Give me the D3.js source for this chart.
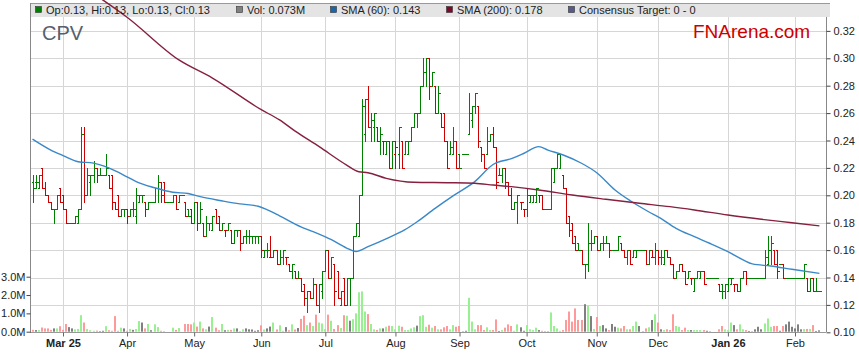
<!DOCTYPE html>
<html>
<head>
<meta charset="utf-8">
<script src="https://cdn.jsdelivr.net/npm/d3@7"></script>
<style>
  body { margin: 0; background: #fff; }
  svg { display: block; }
  text { font-family: "Liberation Sans", Arial, sans-serif; }
</style>
</head>
<body>
<div id="chart"></div>
<script>
// one entry per weekday, 17 Feb 2025 .. 12 Feb 2026
const opens = [
  .21,.21,.205,.22,.205,.20,.195,.19,.19,.205,
  .20,.19,.18,.18,.18,.18,.19,.245,.20,.21,
  .215,.22,.215,.215,.215,.215,.215,.195,.20,.185,
  .19,.19,.185,.19,.185,.195,.20,.195,.19,.195,
  .195,.205,.21,.21,.195,.195,.195,.20,.195,.20,
  .195,.19,.19,.18,.195,.18,.18,.17,.18,.175,
  .19,.185,.175,.175,.175,.175,.165,.175,.175,.165,
  .17,.17,.17,.17,.17,.17,.155,.16,.155,.155,
  .16,.15,.155,.155,.15,.145,.145,.14,.14,.135,
  .125,.13,.125,.135,.12,.13,.145,.16,.14,.15,
  .145,.12,.14,.12,.14,.14,.17,.17,.20,.245,
  .27,.25,.25,.25,.24,.24,.23,.24,.22,.23,
  .23,.24,.23,.23,.24,.25,.26,.26,.28,.29,
  .30,.28,.28,.26,.26,.26,.24,.23,.23,.24,
  .23,.23,.23,.245,.255,.265,.265,.235,.23,.23,
  .24,.245,.235,.215,.215,.22,.21,.20,.19,.195,
  .195,.19,.19,.195,.195,.195,.20,.20,.19,.19,
  .19,.21,.22,.22,.215,.205,.185,.18,.17,.165,
  .16,.15,.15,.165,.165,.17,.16,.165,.165,.165,
  .16,.16,.16,.165,.16,.155,.16,.155,.155,.16,
  .16,.16,.15,.155,.155,.16,.155,.15,.16,.155,
  .15,.14,.145,.15,.145,.14,.14,.13,.14,.14,
  .145,.14,.14,.14,.14,.135,.135,.13,.13,.135,
  .135,.135,.13,.14,.145,.14,.14,.14,.14,.14,
  .14,.15,.16,.16,.16,.15,.15,.14,.14,.14,
  .14,.14,.14,.14,.14,.13,.14,.13,.13
];
const highs = [
  .215,.215,.215,.22,.21,.20,.195,.19,.20,.205,
  .20,.19,.18,.18,.185,.19,.25,.25,.22,.215,
  .225,.22,.22,.215,.23,.215,.215,.195,.20,.19,
  .19,.19,.19,.195,.205,.20,.20,.195,.195,.195,
  .205,.215,.21,.21,.195,.195,.20,.20,.20,.20,
  .195,.19,.19,.195,.195,.195,.18,.185,.18,.185,
  .19,.185,.18,.175,.18,.175,.175,.175,.175,.17,
  .175,.175,.17,.17,.17,.17,.16,.165,.17,.16,
  .16,.16,.16,.155,.15,.15,.145,.145,.14,.135,
  .13,.13,.14,.135,.135,.145,.16,.16,.155,.15,
  .145,.13,.14,.14,.14,.17,.18,.20,.27,.27,
  .28,.26,.26,.25,.25,.24,.24,.24,.24,.24,
  .25,.24,.24,.24,.25,.26,.26,.28,.30,.30,
  .30,.29,.28,.28,.26,.26,.24,.24,.25,.24,
  .23,.23,.23,.275,.265,.275,.265,.235,.23,.25,
  .245,.25,.235,.22,.22,.22,.21,.205,.195,.20,
  .195,.19,.205,.20,.20,.205,.20,.20,.19,.19,
  .22,.22,.23,.23,.215,.205,.185,.18,.17,.165,
  .16,.15,.18,.175,.17,.17,.165,.17,.17,.165,
  .16,.16,.17,.165,.16,.16,.16,.16,.16,.16,
  .16,.16,.16,.16,.165,.16,.16,.16,.16,.155,
  .15,.145,.15,.15,.145,.145,.14,.14,.145,.145,
  .145,.14,.14,.14,.14,.135,.135,.135,.14,.14,
  .135,.135,.14,.145,.145,.14,.14,.14,.14,.14,
  .16,.17,.17,.16,.16,.15,.15,.14,.14,.14,
  .14,.14,.14,.15,.14,.14,.14,.14,.13
];
const lows = [
  .195,.205,.205,.205,.20,.195,.19,.18,.19,.195,
  .19,.18,.18,.18,.18,.18,.19,.195,.20,.20,
  .21,.21,.215,.215,.215,.205,.19,.19,.185,.185,
  .185,.18,.185,.185,.18,.195,.195,.185,.19,.195,
  .195,.195,.195,.195,.195,.195,.195,.19,.195,.20,
  .185,.185,.18,.18,.175,.18,.17,.17,.175,.175,
  .18,.175,.175,.17,.175,.165,.165,.17,.16,.165,
  .165,.165,.165,.165,.165,.155,.155,.155,.155,.155,
  .15,.15,.15,.15,.145,.14,.14,.14,.13,.12,
  .115,.125,.125,.12,.115,.125,.145,.14,.14,.12,
  .125,.12,.12,.12,.12,.14,.17,.17,.20,.24,
  .25,.24,.24,.24,.23,.23,.23,.22,.22,.22,
  .22,.22,.23,.23,.24,.25,.25,.26,.28,.28,
  .27,.28,.26,.26,.25,.24,.22,.23,.23,.22,
  .22,.23,.23,.245,.25,.26,.235,.225,.22,.23,
  .24,.235,.205,.215,.21,.205,.20,.19,.19,.18,
  .19,.185,.185,.195,.195,.195,.195,.19,.19,.19,
  .19,.21,.22,.22,.205,.18,.17,.165,.16,.16,
  .15,.14,.145,.16,.165,.16,.16,.16,.165,.155,
  .16,.16,.16,.16,.155,.15,.15,.155,.155,.16,
  .16,.15,.15,.155,.15,.15,.15,.15,.155,.15,
  .14,.14,.145,.145,.135,.14,.135,.13,.14,.14,
  .135,.14,.14,.14,.14,.13,.125,.125,.13,.135,
  .13,.13,.13,.14,.135,.14,.14,.14,.14,.14,
  .14,.15,.15,.15,.14,.15,.14,.14,.14,.14,
  .14,.14,.14,.14,.13,.13,.13,.13,.13
];
const closes = [
  .205,.21,.215,.205,.20,.195,.19,.19,.20,.195,
  .19,.18,.18,.18,.185,.19,.245,.20,.215,.215,
  .22,.215,.215,.215,.22,.205,.195,.19,.185,.19,
  .19,.185,.19,.19,.20,.20,.20,.19,.195,.195,
  .205,.21,.20,.195,.195,.195,.20,.19,.20,.20,
  .185,.185,.18,.195,.18,.19,.17,.18,.18,.185,
  .18,.175,.18,.175,.18,.165,.175,.175,.165,.17,
  .17,.17,.17,.17,.17,.16,.16,.16,.155,.16,
  .15,.155,.16,.155,.145,.15,.14,.14,.13,.125,
  .13,.125,.135,.12,.135,.145,.16,.14,.155,.13,
  .125,.13,.12,.14,.14,.17,.18,.20,.265,.27,
  .25,.255,.26,.24,.245,.24,.24,.22,.24,.235,
  .25,.22,.24,.24,.25,.26,.26,.28,.29,.30,
  .28,.29,.26,.275,.25,.24,.22,.235,.24,.22,
  .22,.23,.23,.26,.265,.275,.24,.23,.22,.24,
  .245,.235,.21,.215,.22,.21,.20,.19,.195,.20,
  .195,.19,.20,.20,.20,.205,.20,.19,.19,.19,
  .22,.22,.23,.23,.205,.18,.175,.165,.16,.16,
  .15,.15,.165,.165,.17,.16,.165,.165,.165,.16,
  .16,.16,.17,.16,.155,.16,.15,.16,.16,.16,
  .16,.15,.16,.155,.16,.155,.155,.16,.155,.15,
  .14,.145,.15,.145,.135,.145,.14,.14,.145,.145,
  .135,.14,.14,.14,.14,.13,.13,.135,.14,.14,
  .135,.13,.14,.145,.14,.14,.14,.14,.14,.14,
  .155,.16,.165,.15,.145,.15,.14,.14,.14,.14,
  .14,.14,.14,.15,.13,.14,.13,.13,.13
];
// volume in millions
const volumes = [
  .10,.09,.09,.23,.18,.18,.10,.18,.18,.30,
  .10,.42,.25,.18,.13,.15,.90,.50,.15,.08,
  .05,.06,.03,.05,.30,.08,.05,.85,.05,.22,
  .18,.05,.15,.10,.15,.58,.50,.18,.42,.08,
  .40,.25,.05,.03,0,0,.22,.10,.20,0,
  .42,.42,.40,.50,.28,.55,.18,.13,.28,.80,
  .22,.08,.42,.08,.10,.10,.18,.18,.03,.13,
  .18,.13,.12,.05,.08,.35,.12,.18,.28,.50,
  .12,.35,.05,.25,.08,.40,.12,.20,.70,.87,
  .36,.50,.31,.93,.50,.45,.14,.93,.60,.15,
  .36,.20,.90,.87,.60,.68,1.0,2.15,2.2,1.1,
  .96,.42,.13,.09,.18,.18,.27,.33,.31,.13,
  .33,.27,.09,.09,.18,.24,.33,.85,.90,.27,
  .38,.22,.31,.13,.13,.24,.31,.13,.36,.27,
  .31,.02,.05,1.85,.55,.13,.36,.36,.09,.24,
  .09,.09,.67,.04,.09,.22,.40,.31,.05,.40,
  .24,.05,.36,.13,.09,.22,.09,.05,.02,.02,
  1.05,.31,.18,.05,.09,.64,1.1,.55,1.27,.64,
  .64,1.5,1.42,.85,.15,.80,.31,.36,.18,.09,
  .42,.27,.22,.18,.31,.13,.13,.31,.55,.31,
  .02,.18,.24,.64,.95,.50,.13,.09,.13,.09,
  .95,.31,.27,.09,.22,.09,.09,.09,.09,.09,
  .09,.05,.02,0,0,.13,.31,.13,.09,.50,
  .36,.13,.40,.13,.09,.04,.02,.13,.27,.13,
  .45,.72,.27,.31,.31,.05,.31,.40,.55,.27,
  .18,.40,.13,.15,.15,.15,.36,.04,.073
];

// moving averages at a few bar positions
const sma60Idx = [0,6,10,15,20,25,31,34,40,46,51,55,62,68,74,77,81,88,92,98,103,106,110,117,122,126,132,138,145,151,157,161,166,169,174,180,185,191,196,202,206,211,217,222,228,233,236,242,249,258];
const sma60Val = [.241,.233,.229,.2245,.2235,.220,.2135,.210,.2055,.2022,.2013,.199,.196,.1937,.192,.1893,.185,.177,.1735,.1676,.1615,.159,.1625,.1693,.1747,.1805,.1905,.1998,.210,.2225,.2268,.2305,.2355,.233,.2294,.2234,.2165,.2039,.196,.188,.1832,.1759,.1698,.165,.1588,.1528,.1499,.1484,.146,.143];
const sma200Idx = [18,23,31,48,59,75,81,86,94,103,107,110,116,125,136,145,151,157,166,177,188,199,209,217,228,239,249,258];
const sma200Val = [.350,.3427,.330,.2988,.2856,.2625,.255,.247,.2355,.2221,.2172,.2165,.2124,.2095,.2092,.2088,.2075,.2063,.2039,.2002,.1971,.1942,.1917,.1893,.1856,.1825,.180,.1777];

// first weekday of each month (bar index) and its label
const monthIdx = [10,31,53,75,96,119,140,162,185,205,228,250];
const monthLabels = ["Mar 25","Apr","May","Jun","Jul","Aug","Sep","Oct","Nov","Dec","Jan 26","Feb"];
const priceTicks = [0.10,0.12,0.14,0.16,0.18,0.20,0.22,0.24,0.26,0.28,0.30,0.32];
const volTicks = [0,1,2,3];

const legendItems = [
  { label: "Op:0.13, Hi:0.13, Lo:0.13, Cl:0.13", color: "#008000", x: 35 },
  { label: "Vol: 0.073M", color: "#808080", x: 236 },
  { label: "SMA (60): 0.143", color: "#1a66a8", x: 330 },
  { label: "SMA (200): 0.178", color: "#7a0a2a", x: 446 },
  { label: "Consensus Target: 0 - 0", color: "#5a5a88", x: 568 }
];

function drawChart() {
    const width = 859;
    const height = 363;
    const box = { left: 31, right: 826, top: 3, band: 17, bottom: 332 };

    const svg = d3.select("#chart")
        .append("svg")
        .attr("width", width)
        .attr("height", height);

    const x = d3.scaleLinear().domain([0, 258]).range([32.5, 32.5 + 3.05 * 258]);
    const y = d3.scaleLinear().domain([0.10, 0.32]).range([332.3, 30.9]);
    const yVol = d3.scaleLinear().domain([0, 3]).range([331.7, 276.7]);

    // legend band
    svg.append("rect")
        .attr("x", box.left).attr("y", box.top)
        .attr("width", 830 - box.left).attr("height", box.band - box.top)
        .attr("fill", "#e4e4e4");
    svg.append("line")
        .attr("x1", box.left).attr("x2", 830)
        .attr("y1", box.top + 0.5).attr("y2", box.top + 0.5)
        .attr("stroke", "#999");

    // grid
    svg.append("g").selectAll("line")
        .data(priceTicks.slice(1))
        .enter().append("line")
        .attr("x1", box.left).attr("x2", box.right)
        .attr("y1", d => Math.round(y(d)) + 0.5)
        .attr("y2", d => Math.round(y(d)) + 0.5)
        .attr("stroke", "#d6d6d6");
    svg.append("g").selectAll("line")
        .data(monthIdx)
        .enter().append("line")
        .attr("x1", d => Math.round(x(d)) + 0.5)
        .attr("x2", d => Math.round(x(d)) + 0.5)
        .attr("y1", box.band).attr("y2", box.bottom)
        .attr("stroke", "#d6d6d6");

    // titles
    svg.append("text")
        .attr("x", 42).attr("y", 40)
        .style("font-size", "20px")
        .attr("fill", "#56606c")
        .text("CPV");
    svg.append("text")
        .attr("x", 693).attr("y", 38)
        .style("font-size", "19px")
        .attr("fill", "#cc0000")
        .text("FNArena.com");

    // volume
    const up = volumes.map((v, i) => closes[i] > opens[i] ? 1 : (closes[i] < opens[i] ? -1 : 0));
    svg.append("g").selectAll("rect")
        .data(volumes)
        .enter().append("rect")
        .attr("x", (d, i) => Math.round(x(i)) - 1)
        .attr("y", d => yVol(d))
        .attr("width", 2)
        .attr("height", d => yVol(0) - yVol(d))
        .attr("fill", (d, i) => up[i] > 0 ? "#98f090" : (up[i] < 0 ? "#ff9a9a" : "#808080"));

    // OHLC bars
    svg.append("g")
        .attr("shape-rendering", "crispEdges")
        .selectAll("path")
        .data(closes)
        .enter().append("path")
        .attr("d", (d, i) => {
            const cx = Math.round(x(i)) + 0.5;
            const yo = Math.round(y(opens[i])) + 0.5;
            const yc = Math.round(y(closes[i])) + 0.5;
            return `M${cx},${Math.round(y(highs[i]))}V${Math.round(y(lows[i])) + 1}` +
                `M${cx - 2},${yo}H${cx}` +
                `M${cx},${yc}H${cx + 2}`;
        })
        .attr("fill", "none")
        .attr("stroke-width", 1)
        .attr("stroke", (d, i) => (i > 0 && d < closes[i - 1]) ? "#cc0000" : "#008000");

    // moving averages
    const line = d3.line()
        .x(d => x(d[0]))
        .y(d => y(d[1]))
        .curve(d3.curveMonotoneX);
    svg.append("path")
        .datum(sma60Idx.map((d, i) => [d, sma60Val[i]]))
        .attr("d", line)
        .attr("fill", "none")
        .attr("stroke", "#3a88c8")
        .attr("stroke-width", 1.4);
    svg.append("path")
        .datum(sma200Idx.map((d, i) => [d, sma200Val[i]]))
        .attr("d", line)
        .attr("fill", "none")
        .attr("stroke", "#85203f")
        .attr("stroke-width", 1.4);

    // legend
    const legend = svg.append("g").selectAll("g")
        .data(legendItems)
        .enter().append("g")
        .attr("transform", d => `translate(${d.x},0)`);
    legend.append("rect")
        .attr("x", 0.5).attr("y", 6.5)
        .attr("width", 6).attr("height", 6)
        .attr("fill", d => d.color)
        .attr("stroke", "#333")
        .attr("stroke-width", 0.6);
    legend.append("text")
        .attr("x", 11).attr("y", 14)
        .style("font-size", "11px")
        .attr("fill", "#222")
        .text(d => d.label);

    // axes
    svg.append("line")
        .attr("x1", box.left - 0.5).attr("x2", box.left - 0.5)
        .attr("y1", box.top).attr("y2", box.bottom + 1)
        .attr("stroke", "#888");
    svg.append("line")
        .attr("x1", box.left).attr("x2", box.right)
        .attr("y1", box.bottom + 0.5).attr("y2", box.bottom + 0.5)
        .attr("stroke", "#999");

    const rightAxis = svg.append("g")
        .attr("transform", `translate(${box.right + 0.5},0)`)
        .call(d3.axisRight(y).tickValues(priceTicks).tickFormat(d3.format(".2f")).tickSize(4).tickPadding(3));
    rightAxis.select(".domain").attr("stroke", "#888").attr("d", `M0,${box.band}V${box.bottom}`);
    rightAxis.selectAll(".tick line").attr("stroke", "#444");
    rightAxis.selectAll("text")
        .style("font-size", "11px")
        .attr("fill", "#222");

    const volAxis = svg.append("g")
        .attr("transform", `translate(${box.left - 0.5},0)`)
        .call(d3.axisLeft(yVol).tickValues(volTicks).tickFormat(d => d.toFixed(1) + "M").tickSize(4).tickPadding(1));
    volAxis.select(".domain").remove();
    volAxis.selectAll(".tick line").attr("stroke", "#444");
    volAxis.selectAll("text")
        .style("font-size", "11px")
        .attr("fill", "#222");

    const bottomAxis = svg.append("g")
        .attr("transform", `translate(0,${box.bottom + 0.5})`)
        .call(d3.axisBottom(x).tickValues(monthIdx).tickFormat((d, i) => monthLabels[i]).tickSize(4).tickPadding(3));
    bottomAxis.select(".domain").remove();
    bottomAxis.selectAll(".tick line").attr("stroke", "#666");
    bottomAxis.selectAll("text")
        .style("font-size", "11px")
        .style("font-weight", (d, i) => monthLabels[i].indexOf(" ") > 0 ? "bold" : "normal")
        .attr("fill", "#222");
}

document.addEventListener("DOMContentLoaded", function(event) {
    drawChart();
});
</script>
</body>
</html>
